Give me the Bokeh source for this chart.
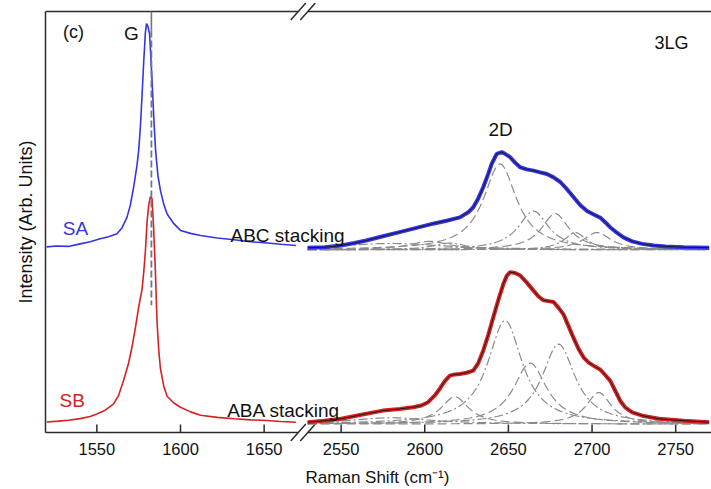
import numpy as np
from bokeh.plotting import figure
from bokeh.models import Range1d, FixedTicker, Label
from bokeh.embed import file_html
from bokeh.resources import INLINE

# ---------------------------------------------------------------------------
# Broken Raman-shift axis: the 2D band region is shifted left so it follows
# the G band region directly.
BREAK_OFFSET = 854.0


def axis_pos(shift):
    shift = np.asarray(shift, dtype=float)
    return np.where(shift > 2000, shift - BREAK_OFFSET, shift)


# ---------------------------------------------------------------------------
# G band, sample SA (ABC stacking) - offset spectrum
g_shift_sa = [1520, 1526, 1533, 1540, 1546, 1552, 1557, 1562, 1565, 1568, 1570,
              1572, 1574, 1575, 1576, 1577, 1578, 1579, 1579.7, 1580.5, 1581.5,
              1582.3, 1583.1, 1584, 1585.1, 1586.5, 1588, 1590, 1592, 1596, 1600,
              1606, 1612, 1622, 1632, 1642, 1652, 1660, 1669]
g_int_sa = [44.1, 44.3, 44.2, 44.8, 45.3, 46.0, 46.5, 47.2, 48.6, 51.1, 54.0,
            58.3, 63.5, 67.0, 72.5, 80.0, 88.0, 95.0, 97.1, 96.5, 94.7,
            89.0, 82.8, 75.0, 67.0, 61.0, 57.5, 54.2, 51.9, 49.6, 48.0,
            47.3, 46.8, 46.2, 45.8, 45.3, 45.0, 44.7, 44.4]

# G band, sample SB (ABA stacking)
g_shift_sb = [1520, 1527, 1533, 1540, 1546, 1550, 1555, 1560, 1563, 1566, 1569,
              1571, 1573, 1575, 1577, 1578, 1579, 1580, 1581, 1582, 1583, 1584,
              1585, 1586, 1587, 1588, 1590, 1592, 1596, 1600, 1606, 1612, 1622,
              1632, 1642, 1652, 1660, 1669]
g_int_sb = [2.5, 2.7, 2.9, 3.3, 3.8, 4.4, 5.3, 6.8, 8.8, 12.4, 16.5,
            20.3, 24.8, 29.8, 34.0, 38.0, 43.0, 50.0, 54.0, 56.0, 55.5, 48.0,
            38.0, 26.0, 19.5, 15.2, 11.0, 8.6, 7.0, 6.0, 4.9, 4.1, 3.6,
            3.25, 3.0, 2.85, 2.6, 2.45]

# 2D band, sample SA
d_shift_sa = [2530, 2540, 2550, 2558, 2565, 2575, 2585, 2595, 2605, 2613, 2621,
              2626, 2629, 2632, 2635, 2638, 2640, 2643, 2646, 2648, 2651, 2654,
              2657, 2661, 2665, 2669, 2673, 2677, 2681, 2685, 2689, 2693, 2697,
              2701, 2705, 2708, 2711, 2715, 2719, 2724, 2730, 2737, 2744, 2755,
              2770]
d_int_sa = [43.9, 44.0, 44.4, 45.0, 45.6, 46.6, 47.6, 48.6, 49.6, 50.3, 51.1,
            52.3, 53.5, 55.6, 58.3, 61.5, 63.8, 66.2, 66.6, 66.2, 65.4, 64.1,
            63.0, 62.5, 62.2, 61.8, 61.4, 60.6, 59.5, 57.8, 55.9, 54.0, 52.6,
            51.8, 51.0, 49.9, 48.7, 47.4, 46.3, 45.4, 44.8, 44.4, 44.2, 44.0,
            43.9]

# 2D band, sample SB
d_shift_sb = [2530, 2540, 2550, 2562, 2575, 2585, 2593, 2598, 2602, 2606, 2609,
              2612, 2615, 2618, 2621, 2625, 2629, 2632, 2635, 2638, 2641, 2644,
              2647, 2649, 2651, 2654, 2657, 2661, 2665, 2668, 2671, 2674, 2677,
              2680, 2683, 2686, 2689, 2692, 2695, 2698, 2702, 2705, 2708, 2711,
              2714, 2717, 2720, 2724, 2730, 2740, 2755, 2770]
d_int_sb = [2.45, 2.8, 3.25, 4.2, 5.2, 5.6, 6.0, 6.4, 7.2, 8.8, 10.4,
            12.2, 13.5, 13.8, 13.9, 14.2, 14.7, 16.5, 19.5, 23.2, 27.4, 31.5,
            35.3, 37.2, 38.1, 37.9, 37.3, 35.6, 33.7, 32.3, 31.4, 31.2, 31.0,
            29.6, 28.0, 25.2, 22.4, 19.8, 17.8, 16.6, 15.6, 14.9, 13.6, 12.2,
            9.8, 7.4, 5.9, 4.8, 4.0, 3.25, 2.8, 2.45]

# Lorentzian components of the 2D fits (centre, FWHM in cm-1, height)
sa_fit_base = 43.4
sa_fit_center = [2580, 2603, 2615, 2645, 2665, 2678, 2690, 2703]
sa_fit_fwhm = [80, 30, 24, 24, 22, 20, 16, 20]
sa_fit_height = [1.5, 2.0, 1.6, 20.4, 9.2, 8.6, 4.1, 4.1]

sb_fit_base = 2.0
sb_fit_center = [2580, 2618, 2648, 2663, 2680, 2704]
sb_fit_fwhm = [60, 20, 25, 24, 24, 18]
sb_fit_height = [1.5, 6.5, 24.6, 14.5, 19.0, 7.5]

# Axis tick labels on each side of the break
ticks_g = [1550, 1600, 1650]
ticks_2d = [2550, 2600, 2650, 2700, 2750]

G_LINE = 1582.6

# ---------------------------------------------------------------------------
BLUE = "#3434e6"
RED = "#d42222"
GREY = "#8a8a8a"
AXIS = "#2b2b2b"
INK = "#111111"
FONT = "Liberation Sans"

# box drawn from X0..X1 and Y0..Y1; the frame is a little larger so the
# break marks are not cut off
X0, X1 = 1519.3, 1917.4
Y0, Y1 = 0.0, 100.0
PX_X = 1.673   # pixels per cm-1
PX_Y = 4.21    # pixels per intensity unit

p = figure(width=711, height=489, output_backend="svg", toolbar_location=None,
           x_range=Range1d(X0 - 2 / PX_X, X1),
           y_range=Range1d(Y0 - 9 / PX_Y, Y1 + 9 / PX_Y),
           min_border_left=43, min_border_right=0, min_border_top=2,
           min_border_bottom=48)
p.outline_line_color = None
p.grid.visible = False
p.background_fill_color = "white"
p.border_fill_color = "white"

# x axis labels in real Raman shift; the tick marks are drawn inward below
tick_shift = ticks_g + ticks_2d
tick_pos = [int(v) for v in axis_pos(tick_shift)]
xa = p.xaxis[0]
xa.ticker = FixedTicker(ticks=tick_pos)
xa.major_label_overrides = {tp: str(t) for tp, t in zip(tick_pos, tick_shift)}
xa.axis_line_color = None
xa.major_tick_line_color = None
xa.major_tick_in = 0
xa.major_tick_out = 0
xa.minor_tick_line_color = None
xa.major_label_text_font = FONT
xa.major_label_text_font_size = "16.5px"
xa.major_label_text_color = INK
xa.major_label_standoff = 1
xa.axis_label = "Raman Shift (cm\u207b\u00b9)"
xa.axis_label_text_font = FONT
xa.axis_label_text_font_size = "17px"
xa.axis_label_text_font_style = "normal"
xa.axis_label_text_color = INK
xa.axis_label_standoff = 10

ya = p.yaxis[0]
ya.ticker = FixedTicker(ticks=[])
ya.major_tick_in = 0
ya.major_tick_out = 0
ya.minor_tick_line_color = None
ya.major_label_standoff = 0
ya.axis_line_color = None
ya.axis_label = "Intensity (Arb. Units)"
ya.axis_label_text_font = FONT
ya.axis_label_text_font_size = "18px"
ya.axis_label_text_font_style = "normal"
ya.axis_label_text_color = INK
ya.axis_label_standoff = 8

# box lines with a gap at the axis break, plus the // marks
brk_a, brk_b = 1670.4, 1676.1
bx0, by0, bx1, by1 = [X0], [Y0], [X0], [Y1]
for yb in (Y0, Y1):
    for xs, xe in ((X0, brk_a), (brk_b, X1)):
        bx0.append(xs); by0.append(yb); bx1.append(xe); by1.append(yb)
    for xc in (brk_a, brk_b):
        bx0.append(xc - 4.5); by0.append(yb - 2.0)
        bx1.append(xc + 4.5); by1.append(yb + 2.0)
p.segment(x0=bx0, y0=by0, x1=bx1, y1=by1, line_color=AXIS, line_width=1.5)

# inward tick marks
p.segment(x0=tick_pos, y0=[Y0] * len(tick_pos), x1=tick_pos,
          y1=[Y0 + 8 / PX_Y] * len(tick_pos), line_color=AXIS, line_width=1.5)

# fit components
grid = np.arange(2530.0, 2771.0, 1.0)


def components(centers, fwhms, heights):
    curves = []
    for c, w, h in zip(centers, fwhms, heights):
        hw = w / 2.0
        curves.append(h / (1.0 + ((grid - c) / hw) ** 2))
    return curves


for base, cs, ws, hs in ((sa_fit_base, sa_fit_center, sa_fit_fwhm, sa_fit_height),
                         (sb_fit_base, sb_fit_center, sb_fit_fwhm, sb_fit_height)):
    for i, comp in enumerate(components(cs, ws, hs)):
        dash = "9 4" if i % 2 else "9 3 2 3"
        p.line(axis_pos(grid), base + comp, line_color=GREY, line_width=1.2,
               line_dash=dash)

# measured spectra
p.line(axis_pos(g_shift_sa), g_int_sa, line_color=BLUE, line_width=1.6)
p.line(axis_pos(g_shift_sb), g_int_sb, line_color=RED, line_width=1.6)
p.line(axis_pos(d_shift_sa), d_int_sa, line_color=BLUE, line_width=4.0)
p.line(axis_pos(d_shift_sb), d_int_sb, line_color=RED, line_width=4.0)

# overall fit through the 2D bands
p.line(axis_pos(d_shift_sa), d_int_sa, line_color="#151515", line_width=0.9)
p.line(axis_pos(d_shift_sb), d_int_sb, line_color="#151515", line_width=0.9)

# G peak position marker
p.segment(x0=[G_LINE], y0=[Y1], x1=[G_LINE], y1=[95.5], line_color="#6d7787",
          line_width=1.6)
p.segment(x0=[G_LINE], y0=[95.5], x1=[G_LINE], y1=[30.2], line_color="#6d7787",
          line_width=1.8, line_dash="7 3")


# text annotations
def label(x, y, text, color=INK, align="left", baseline="middle", size="19px"):
    p.add_layout(Label(x=float(axis_pos(x)), y=y, text=text, text_color=color,
                       text_font=FONT, text_font_size=size, text_align=align,
                       text_baseline=baseline))


label(1536.0, 95.1, "(c)", align="center", size="18px")
label(1575.1, 94.8, "G", align="right")
label(1537.2, 48.4, "SA", color=BLUE, align="center")
label(1535.3, 7.5, "SB", color=RED, align="center")
label(1629.9, 46.8, "ABC stacking", baseline="alphabetic")
label(1627.9, 5.2, "ABA stacking", baseline="alphabetic")
label(2645.3, 72.0, "2D", align="center")
label(2747.5, 92.5, "3LG", align="center", size="18px")

open("out.html", "w").write(file_html(p, INLINE))
